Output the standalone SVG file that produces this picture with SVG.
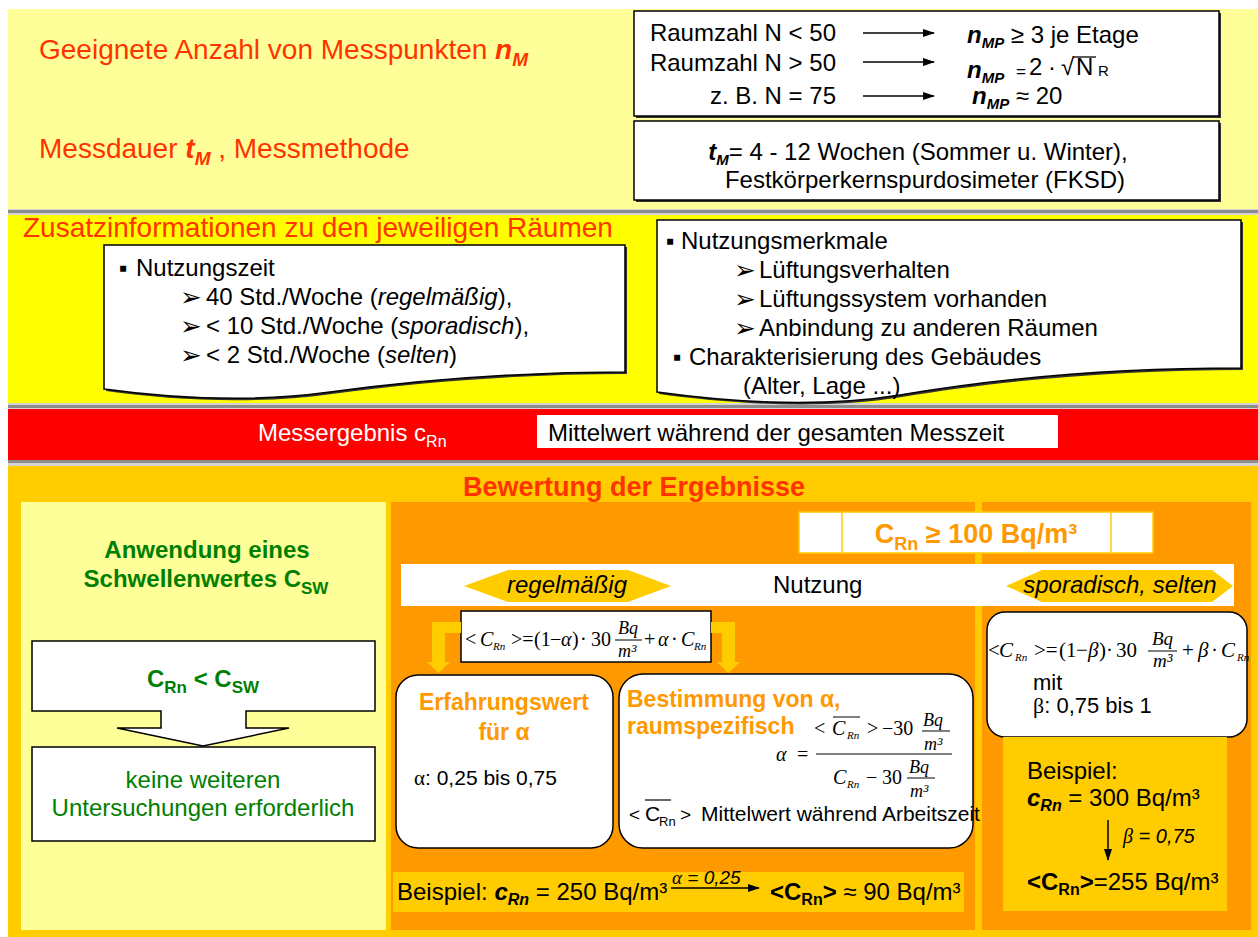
<svg xmlns="http://www.w3.org/2000/svg" width="1258" height="937" viewBox="0 0 1258 937">
<defs>
<style>
.sans{font-family:"Liberation Sans",Arial,"DejaVu Sans",sans-serif}
.m{font-family:"Liberation Serif","Times New Roman",serif}
.i{font-style:italic}
.bi{font-weight:bold;font-style:italic}
.b{font-weight:bold}
.box{fill:#fff;stroke:#000;stroke-width:1.5}
.rbox{fill:#fff;stroke:#000;stroke-width:1.5}
.shd{fill:#333}
.sepL{fill:#D4D4D4}
.sepD{fill:#8C8C8C}
.gold{fill:#FFCC00}
.orng{fill:#FF9900}
.ln{stroke:#000;stroke-width:1.5;fill:none}
.thin{stroke:#000;stroke-width:1;fill:none}
.arr{font-family:"DejaVu Sans",sans-serif;font-size:26px}
</style>
<marker id="ah" viewBox="0 0 12 8" refX="11" refY="4" markerWidth="12" markerHeight="8" markerUnits="userSpaceOnUse" orient="auto"><path d="M0,0 L12,4 L0,8 Z" fill="#000"/></marker>
</defs>
<g class="sans" font-size="24">
<rect x="0" y="0" width="1258" height="937" fill="#fff"/>
<g id="bands">
<rect x="8" y="9" width="1250" height="200" fill="#FFFF99"/>
<rect x="8" y="209" width="1250" height="6" class="sepL"/>
<rect x="8" y="210" width="1250" height="3" class="sepD"/>
<rect x="8" y="215" width="1250" height="188" fill="#FFFF00"/>
<rect x="8" y="403" width="1250" height="6" class="sepL"/>
<rect x="8" y="405" width="1250" height="3" class="sepD"/>
<rect x="8" y="409" width="1250" height="51" fill="#FF0000"/>
<rect x="8" y="460" width="1250" height="6" class="sepL"/>
<rect x="8" y="460" width="1250" height="3" class="sepD"/>
<rect x="8" y="466" width="1250" height="471" class="gold"/>
</g>

<g id="label-messpunkte">
<text x="39" y="59" font-size="28" fill="#FF3300">Geeignete Anzahl von Messpunkten <tspan class="bi">n</tspan><tspan class="bi" font-size="19" dy="7">M</tspan></text>
</g>
<g id="label-messdauer">
<text x="39" y="158" font-size="28" fill="#FF3300">Messdauer <tspan class="bi">t</tspan><tspan class="bi" font-size="19" dy="7">M</tspan><tspan dy="-7"> , Messmethode</tspan></text>
</g>

<g id="node-raumzahl">
<rect x="636" y="13" width="585" height="105" class="shd"/>
<rect x="634" y="11" width="585" height="105" class="box"/>
<text x="836" y="41" text-anchor="end">Raumzahl N &lt; 50</text>
<text x="836" y="71" text-anchor="end">Raumzahl N &gt; 50</text>
<text x="836" y="104" text-anchor="end">z. B. N = 75</text>
<text x="967" y="43"><tspan class="bi">n</tspan><tspan class="bi" font-size="15" dy="5">MP</tspan><tspan dy="-5"> ≥ 3 je Etage</tspan></text>
<text x="967" y="78"><tspan class="bi">n</tspan><tspan class="bi" font-size="15" dy="5">MP</tspan></text>
<text x="1016" y="77" font-size="17">=</text>
<text x="1029" y="75">2</text>
<text x="1048" y="75">·</text>
<text x="1061" y="75">√</text>
<text x="1076" y="75">N</text>
<line x1="1073" y1="57" x2="1096" y2="57" stroke="#000" stroke-width="1.3"/>
<text x="1098" y="76" font-size="15">R</text>
<text x="972" y="104"><tspan class="bi">n</tspan><tspan class="bi" font-size="15" dy="5">MP</tspan><tspan dy="-5"> ≈ 20</tspan></text>
</g>

<g id="node-messmethode">
<rect x="636" y="123" width="585" height="79" class="shd"/>
<rect x="634" y="121" width="585" height="79" class="box"/>
<text x="918" y="160" text-anchor="middle"><tspan class="bi">t</tspan><tspan class="bi" font-size="15" dy="5">M</tspan><tspan dy="-5">= 4 - 12 Wochen (Sommer u. Winter),</tspan></text>
<text x="925" y="188" text-anchor="middle">Festkörperkernspurdosimeter (FKSD)</text>
</g>

<g id="label-zusatz">
<text x="23" y="237" font-size="28" fill="#FF3300">Zusatzinformationen zu den jeweiligen Räumen</text>
</g>

<g id="node-nutzungszeit">
<path d="M106,247 H627 V374 C522,374 422,382 332,394 C252,405 172,400 106,391 Z" class="shd"/>
<path d="M104,245 H625 V372 C520,372 420,380 330,392 C250,403 170,398 104,389 Z" class="box"/>
<text x="119" y="276">▪</text>
<text x="136" y="276">Nutzungszeit</text>
<text x="180" y="306" class="arr">➢</text>
<text x="206" y="305">40 Std./Woche (<tspan class="i">regelmäßig</tspan>),</text>
<text x="180" y="335" class="arr">➢</text>
<text x="206" y="334">&lt; 10 Std./Woche (<tspan class="i">sporadisch</tspan>),</text>
<text x="180" y="364" class="arr">➢</text>
<text x="206" y="363">&lt; 2 Std./Woche (<tspan class="i">selten</tspan>)</text>
</g>

<g id="node-nutzungsmerkmale">
<path d="M659,222 H1243 V370 C1122,370 1002,380 902,397 C822,410 732,404 659,394 Z" class="shd"/>
<path d="M657,220 H1241 V368 C1120,368 1000,378 900,395 C820,408 730,402 657,392 Z" class="box"/>
<text x="666" y="249">▪</text>
<text x="681" y="249">Nutzungsmerkmale</text>
<text x="734" y="279" class="arr">➢</text>
<text x="759" y="278">Lüftungsverhalten</text>
<text x="734" y="308" class="arr">➢</text>
<text x="759" y="307">Lüftungssystem vorhanden</text>
<text x="734" y="337" class="arr">➢</text>
<text x="759" y="336">Anbindung zu anderen Räumen</text>
<text x="673" y="365">▪</text>
<text x="689" y="365">Charakterisierung des Gebäudes</text>
<text x="743" y="394">(Alter, Lage ...)</text>
</g>

<g id="node-messergebnis">
<text x="258" y="441" fill="#fff">Messergebnis  c<tspan font-size="16" dy="6">Rn</tspan></text>
<rect x="537" y="415" width="521" height="33" fill="#fff"/>
<text x="548" y="441">Mittelwert während der gesamten Messzeit</text>
</g>

<g id="label-bewertung">
<text x="634" y="496" text-anchor="middle" font-size="27" font-weight="bold" fill="#FF3300">Bewertung der Ergebnisse</text>
</g>

<g id="panel-schwellenwert">
<rect x="21" y="502" width="365" height="428" fill="#FFFF99"/>
<text x="207" y="558" text-anchor="middle" font-weight="bold" fill="#008000">Anwendung eines</text>
<text x="206" y="587" text-anchor="middle" font-weight="bold" fill="#008000">Schwellenwertes C<tspan font-size="17" dy="7">SW</tspan></text>
</g>

<g id="node-bedingung">
<path d="M32,641 H375 V711 H246 V728 H289 L203,746 L117,728 H161 V711 H32 Z" class="box"/>
<text x="203" y="687" text-anchor="middle" font-weight="bold" fill="#008000">C<tspan font-size="17" dy="6">Rn</tspan><tspan dy="-6"> &lt; C</tspan><tspan font-size="17" dy="6">SW</tspan></text>
</g>

<g id="node-keine">
<rect x="32" y="747" width="343" height="94" class="box"/>
<text x="203" y="788" text-anchor="middle" fill="#008000">keine weiteren</text>
<text x="203" y="816" text-anchor="middle" fill="#008000">Untersuchungen erforderlich</text>
</g>

<g id="panels-orange">
<rect x="391" y="502" width="584" height="428" class="orng"/>
<rect x="982" y="502" width="269" height="428" class="orng"/>
</g>

<g id="node-crn100">
<rect x="799" y="512" width="354" height="41" fill="#fff" stroke="#FFCC00" stroke-width="1.5"/>
<line x1="842" y1="512" x2="842" y2="553" stroke="#FFCC00" stroke-width="1.5"/>
<line x1="1111" y1="512" x2="1111" y2="553" stroke="#FFCC00" stroke-width="1.5"/>
<text x="976" y="543" text-anchor="middle" font-size="27" font-weight="bold" fill="#FF9900">C<tspan font-size="18" dy="7">Rn</tspan><tspan dy="-7"> ≥ 100 Bq/m³</tspan></text>
</g>

<g id="node-nutzung">
<rect x="401" y="564" width="833" height="42" fill="#fff"/>
<text x="773" y="593">Nutzung</text>
</g>
<g id="node-regelmaessig">
<polygon points="464,586 508,570 628,570 671,586 628,602 508,602" class="gold"/>
<text x="567" y="593" text-anchor="middle" class="i">regelmäßig</text>
</g>
<g id="node-sporadisch">
<polygon points="1006,586 1042,570 1212,570 1233,586 1212,602 1042,602" class="gold"/>
<text x="1120" y="593" text-anchor="middle" class="i">sporadisch, selten</text>
</g>

<g id="node-formel-alpha">
<rect x="461" y="611" width="250" height="51" class="box" stroke-width="1.2"/>
<g class="m" font-size="20">
<text x="465" y="646">&lt;</text>
<text x="480" y="646" class="i">C</text>
<text x="493" y="650" class="i" font-size="11">Rn</text>
<text x="511" y="646">&gt;=</text>
<text x="534" y="646">(1</text>
<text x="550" y="646">−</text>
<text x="561" y="646" class="i">α</text>
<text x="572" y="646">)</text>
<text x="580" y="646">·</text>
<text x="591" y="646">30</text>
<text x="618" y="634" class="i" font-size="18">Bq</text>
<line x1="615" y1="640" x2="642" y2="640" class="thin"/>
<text x="618" y="657" class="i" font-size="18">m³</text>
<text x="644" y="646">+</text>
<text x="658" y="646" class="i">α</text>
<text x="671" y="646">·</text>
<text x="681" y="646" class="i">C</text>
<text x="694" y="650" class="i" font-size="11">Rn</text>
</g>
</g>

<g id="node-erfahrungswert">
<rect x="396" y="675" width="217" height="173" rx="22" class="rbox"/>
<text x="504" y="710" text-anchor="middle" font-size="23" class="b" fill="#FF9900">Erfahrungswert</text>
<text x="504" y="740" text-anchor="middle" font-size="23" class="b" fill="#FF9900">für α</text>
<text x="414" y="785" font-size="21"><tspan class="m">α</tspan>: 0,25 bis 0,75</text>
</g>

<g id="node-bestimmung">
<rect x="619" y="674" width="354" height="174" rx="24" class="rbox"/>
<text x="627" y="707" font-size="23" class="b" fill="#FF9900">Bestimmung von α,</text>
<text x="627" y="734" font-size="23" class="b" fill="#FF9900">raumspezifisch</text>
<g class="m" font-size="20">
<text x="776" y="761" class="i">α</text>
<text x="797" y="761">=</text>
<line x1="816" y1="754" x2="952" y2="754" class="thin"/>
<text x="814" y="735">&lt;</text>
<text x="832" y="735" class="i">C</text>
<line x1="833" y1="717" x2="860" y2="717" class="thin"/>
<text x="847" y="739" class="i" font-size="11">Rn</text>
<text x="867" y="735">&gt;</text>
<text x="882" y="735">−30</text>
<text x="923" y="726" class="i" font-size="18">Bq</text>
<line x1="922" y1="731" x2="950" y2="731" class="thin"/>
<text x="924" y="750" class="i" font-size="18">m³</text>
<text x="833" y="784" class="i">C</text>
<text x="847" y="788" class="i" font-size="11">Rn</text>
<text x="866" y="784">−</text>
<text x="882" y="784">30</text>
<text x="909" y="773" class="i" font-size="18">Bq</text>
<line x1="907" y1="778" x2="935" y2="778" class="thin"/>
<text x="910" y="797" class="i" font-size="18">m³</text>
</g>
<text x="629" y="821" font-size="19">&lt;</text>
<text x="645" y="821" font-size="21">C</text>
<line x1="645" y1="800" x2="671" y2="800" stroke="#000" stroke-width="1.2"/>
<text x="659" y="826" font-size="13">Rn</text>
<text x="680" y="821" font-size="19">&gt;</text>
<text x="701" y="821" font-size="21">Mittelwert während Arbeitszeit</text>
</g>

<g id="node-beispiel-alpha">
<rect x="393" y="872" width="571" height="40" class="gold"/>
<text x="397" y="900">Beispiel: <tspan class="bi">c</tspan><tspan class="bi" font-size="16" dy="5">Rn</tspan><tspan dy="-5"> = 250 Bq/m³</tspan></text>
<text x="672" y="884" font-size="19" class="i"><tspan class="m">α</tspan> = 0,25</text>
<text x="770" y="900"><tspan class="b">&lt;C</tspan><tspan class="b" font-size="16" dy="5">Rn</tspan><tspan class="b" dy="-5">&gt;</tspan> ≈ 90 Bq/m³</text>
</g>

<g id="node-formel-beta">
<rect x="987" y="612" width="260" height="125" rx="18" class="rbox"/>
<g class="m" font-size="21">
<text x="988" y="657">&lt;</text>
<text x="999" y="657" class="i">C</text>
<text x="1015" y="661" class="i" font-size="11">Rn</text>
<text x="1034" y="657">&gt;=</text>
<text x="1059" y="657">(1</text>
<text x="1076" y="657">−</text>
<text x="1088" y="657" class="i">β</text>
<text x="1099" y="657">)</text>
<text x="1106" y="657">·</text>
<text x="1116" y="657">30</text>
<text x="1152" y="645" class="i" font-size="19">Bq</text>
<line x1="1148" y1="651" x2="1177" y2="651" class="thin"/>
<text x="1153" y="667" class="i" font-size="19">m³</text>
<text x="1182" y="657">+</text>
<text x="1198" y="657" class="i">β</text>
<text x="1211" y="657">·</text>
<text x="1221" y="657" class="i">C</text>
<text x="1237" y="661" class="i" font-size="11">Rn</text>
</g>
<text x="1033" y="690" font-size="22">mit</text>
<text x="1033" y="713" font-size="22"><tspan class="m">β</tspan>: 0,75 bis 1</text>
</g>

<g id="node-beispiel-beta">
<rect x="1003" y="737" width="224" height="174" class="gold"/>
<text x="1027" y="779">Beispiel:</text>
<text x="1027" y="806"><tspan class="bi">c</tspan><tspan class="bi" font-size="16" dy="5">Rn</tspan><tspan dy="-5"> = 300 Bq/m³</tspan></text>
<text x="1123" y="843" font-size="20" class="i"><tspan class="m">β</tspan> = 0,75</text>
<text x="1027" y="890"><tspan class="b">&lt;C</tspan><tspan class="b" font-size="16" dy="5">Rn</tspan><tspan class="b" dy="-5">&gt;</tspan>=255 Bq/m³</text>
</g>

<g id="connectors">
<line x1="863" y1="33" x2="934" y2="33" class="ln" marker-end="url(#ah)"/>
<line x1="863" y1="62" x2="934" y2="62" class="ln" marker-end="url(#ah)"/>
<line x1="863" y1="96" x2="934" y2="96" class="ln" marker-end="url(#ah)"/>
<polygon points="461,622 432,622 432,662 427,662 438.5,673 450,662 445,662 445,633 461,633" class="gold"/>
<polygon points="711,622 735,622 735,662 740,662 728.5,673 717,662 722,662 722,633 711,633" class="gold"/>
<line x1="671" y1="888" x2="759" y2="888" class="ln" marker-end="url(#ah)"/>
<line x1="1108" y1="820" x2="1108" y2="860" class="ln" marker-end="url(#ah)"/>
</g>
</g>
</svg>
